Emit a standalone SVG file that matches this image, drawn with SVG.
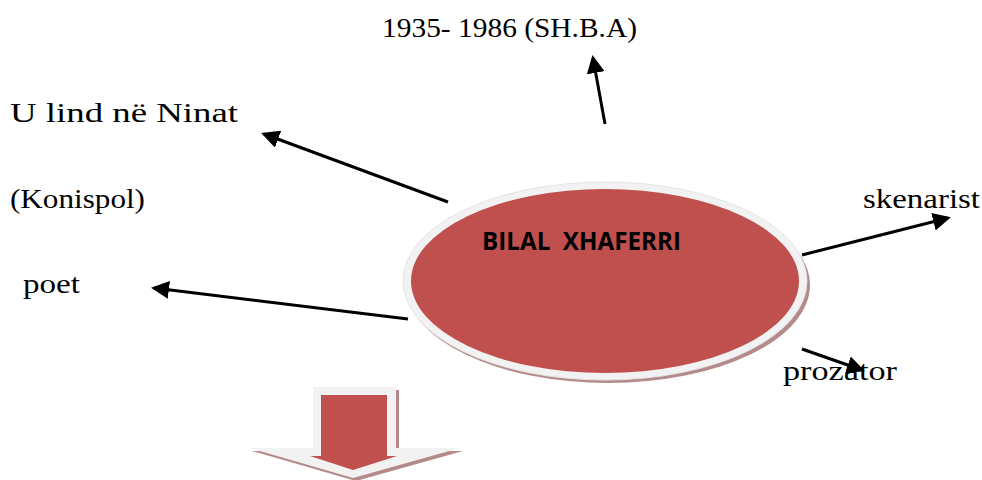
<svg xmlns="http://www.w3.org/2000/svg" width="982" height="480" viewBox="0 0 982 480">
<style>
.lbl{font-family:"Palatino Linotype","Book Antiqua","Liberation Serif",serif;font-size:27px;fill:#000}
.con{stroke:#000;stroke-width:3;fill:none;marker-end:url(#ah)}
</style>
<defs>
<marker id="ah" markerWidth="6" markerHeight="6" refX="5" refY="3" orient="auto" markerUnits="strokeWidth">
<path d="M0,0 L6,3 L0,6 Z" fill="#000"/>
</marker>
</defs>
<rect width="982" height="480" fill="#fff"/>
<g id="center">
<ellipse cx="608" cy="285" rx="202" ry="98" fill="#b58a8a"/>
<ellipse cx="605" cy="281" rx="202" ry="99" fill="#f2f2f2" stroke="#e4e4e4" stroke-width="1"/>
<ellipse cx="605" cy="281" rx="194" ry="92" fill="#c0504d"/>
<text x="482" y="250" xml:space="preserve" style="white-space:pre" font-family="'Open Sans','Liberation Sans',Arial,sans-serif" font-weight="bold" font-size="25" textLength="199" lengthAdjust="spacingAndGlyphs">BILAL  XHAFERRI</text>
</g>
<g id="n-dates"><text class="lbl" x="382" y="37" textLength="255" lengthAdjust="spacingAndGlyphs">1935- 1986 (SH.B.A)</text></g>
<g id="n-lind"><text class="lbl" x="10" y="122" textLength="228" lengthAdjust="spacingAndGlyphs">U lind në Ninat</text></g>
<g id="n-konispol"><text class="lbl" x="10" y="208" textLength="135" lengthAdjust="spacingAndGlyphs">(Konispol)</text></g>
<g id="n-skenarist"><text class="lbl" x="863" y="208" textLength="117" lengthAdjust="spacingAndGlyphs">skenarist</text></g>
<g id="n-poet"><text class="lbl" x="23" y="293" textLength="57" lengthAdjust="spacingAndGlyphs">poet</text></g>
<g id="n-prozator"><text class="lbl" x="783" y="380" textLength="114" lengthAdjust="spacingAndGlyphs">prozator</text></g>
<g id="connectors">
<line class="con" x1="605" y1="124" x2="593" y2="58"/>
<line class="con" x1="448" y1="202" x2="264" y2="134"/>
<line class="con" x1="408" y1="319" x2="154" y2="288"/>
<line class="con" x1="802" y1="255" x2="948" y2="218"/>
<line class="con" x1="802" y1="349" x2="862" y2="370"/>
</g>
<g id="down-arrow">
<path d="M315,390 H399 V451 H463 L356,481 L252,451 H315 Z" fill="#b58a8a"/>
<path d="M313,387 H396 V448 H460 L353,478 L250,448 H313 Z" fill="#f2f2f2"/>
<path d="M321,395 H387 V456 H397 L353,470 L310,456 H321 Z" fill="#c0504d"/>
</g>
</svg>
